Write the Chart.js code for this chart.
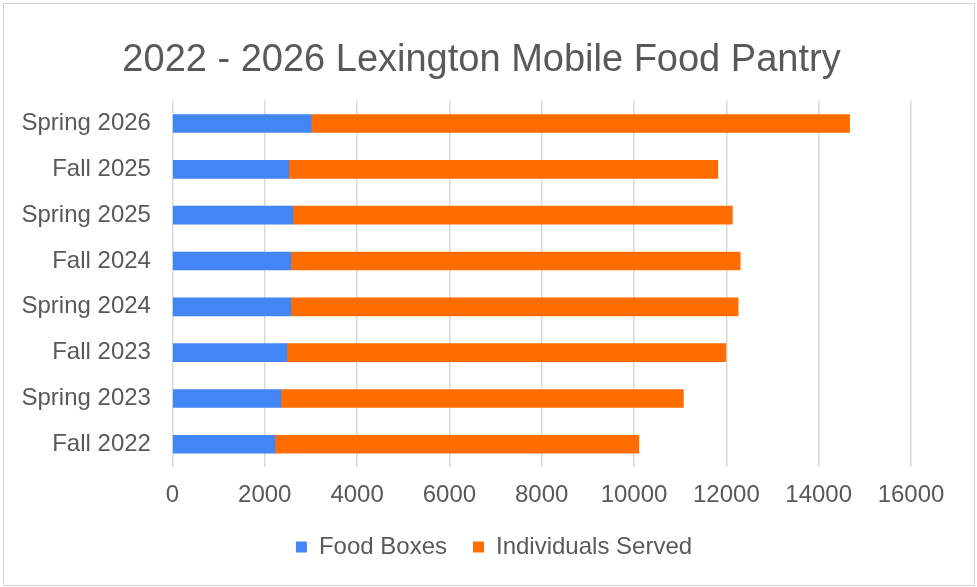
<!DOCTYPE html>
<html>
<head>
<meta charset="utf-8">
<script src="https://cdn.jsdelivr.net/npm/chart.js@4"></script>
<style>
  html, body { margin: 0; padding: 0; background: #fff; }
  #wrap { position: absolute; left: 0; top: 0; width: 977px; height: 587px; }
  #frame { position: absolute; left: 3px; top: 3px; width: 970px; height: 581px;
           border: 1px solid #d3d3d3; pointer-events: none; }
</style>
</head>
<body>
<div id="wrap"><canvas id="chart"></canvas></div>
<div id="frame"></div>
<script>
const seasons = ['Spring 2026', 'Fall 2025', 'Spring 2025', 'Fall 2024', 'Spring 2024', 'Fall 2023', 'Spring 2023', 'Fall 2022'];
const foodBoxes = [3005, 2520, 2610, 2565, 2565, 2480, 2350, 2220];
const individualsServed = [11665, 9295, 9520, 9735, 9690, 9510, 8720, 7885];
const xTicks = [0, 2000, 4000, 6000, 8000, 10000, 12000, 14000, 16000];

const textColor = '#595959';
const fontFamily = '"Liberation Sans", Arial, sans-serif';

// title and legend in the reference are centred on the whole frame, not the plot
const recentre = {
    id: 'recentre',
    afterLayout(chart) {
        const t = chart.titleBlock;
        t.left = 0; t.right = 963; t.width = 963;
        const l = chart.legend;
        l.left = 0; l.right = 988; l.width = 988;
        l.top -= 15; l.bottom -= 15;
    }
};

var ctx = document.getElementById('chart');
var chart = new Chart(ctx, {
    type: 'bar',
    data: {
        labels: seasons,
        datasets: [{
            label: 'Food Boxes',
            backgroundColor: '#4285F4',
            data: foodBoxes,
        }, {
            label: 'Individuals Served',
            backgroundColor: '#FF6D01',
            data: individualsServed,
        }]
    },
    options: {
        indexAxis: 'y',
        responsive: true,
        maintainAspectRatio: false,
        animation: false,
        barThickness: 18,
        layout: { padding: { left: 0, right: 66, top: 0, bottom: 3 } },
        scales: {
            x: {
                stacked: true,
                min: xTicks[0],
                max: xTicks[xTicks.length - 1],
                afterBuildTicks: (axis) => { axis.ticks = xTicks.map(v => ({ value: v })); },
                grid: { color: '#d9d9d9', lineWidth: 1.5, drawTicks: false },
                border: { display: false },
                ticks: {
                    color: textColor, font: { family: fontFamily, size: 24 }, padding: 14,
                    callback: (v) => String(v)
                }
            },
            y: {
                stacked: true,
                grid: { display: false, drawTicks: false },
                border: { display: false },
                ticks: { color: textColor, font: { family: fontFamily, size: 24 }, padding: 21.5 }
            }
        },
        plugins: {
            title: {
                display: true,
                text: '2022 - 2026 Lexington Mobile Food Pantry',
                color: textColor,
                font: { family: fontFamily, size: 38, weight: 'normal' },
                padding: { top: 38, bottom: 17 }
            },
            legend: {
                position: 'bottom',
                labels: {
                    color: textColor,
                    font: { family: fontFamily, size: 24 },
                    boxWidth: 11,
                    boxHeight: 11,
                    padding: 26
                }
            },
            tooltip: { enabled: false }
        }
    },
    plugins: [recentre]
});
</script>
</body>
</html>
